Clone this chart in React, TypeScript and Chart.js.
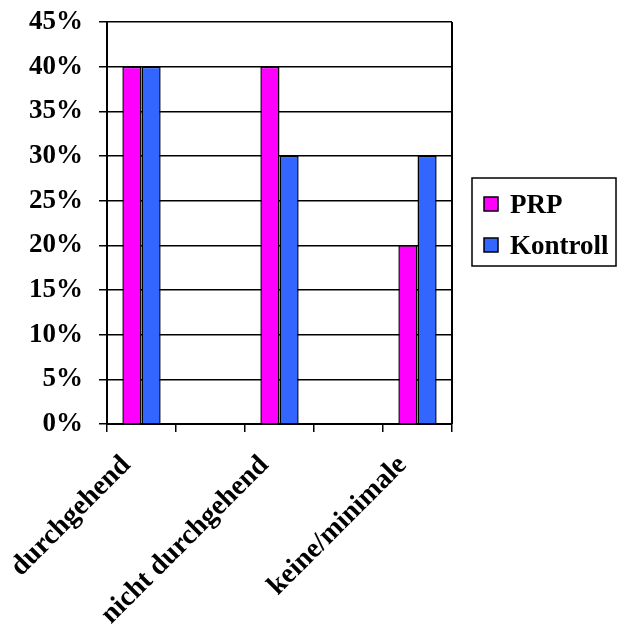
import React, { useEffect, useRef } from "react";
import { Chart, registerables } from "chart.js";

Chart.register(...registerables);

const categories = ["durchgehend", "", "nicht durchgehend", "", "keine/minimale"];
const prpValues = [40, null, 40, null, 20];
const kontrollValues = [40, null, 30, null, 30];
const seriesNames = ["PRP", "Kontroll"];
const seriesColors = ["#FF00FF", "#3366FF"];
const yMax = 45;
const yStep = 5;

const FONT = "'Liberation Serif', 'Times New Roman', serif";

const frameAndLegend = {
  id: "frameAndLegend",
  afterDraw(chart: any) {
    const { ctx, chartArea } = chart;
    ctx.save();
    ctx.strokeStyle = "#000";
    ctx.lineWidth = 2;
    ctx.beginPath();
    ctx.moveTo(chartArea.right, chartArea.top);
    ctx.lineTo(chartArea.right, chartArea.bottom);
    ctx.stroke();

    // legend box
    const lx = 472, ly = 178, lw = 144, lh = 88;
    ctx.lineWidth = 1.5;
    ctx.strokeRect(lx, ly, lw, lh);
    ctx.font = `bold 27px ${FONT}`;
    ctx.textBaseline = "alphabetic";
    ctx.textAlign = "left";
    const rows = [213, 254];
    chart.data.datasets.forEach((ds: any, i: number) => {
      const base = rows[i];
      ctx.fillStyle = ds.backgroundColor;
      ctx.fillRect(484, base - 16, 14, 14);
      ctx.lineWidth = 1.5;
      ctx.strokeStyle = "#000";
      ctx.strokeRect(484, base - 16, 14, 14);
      ctx.fillStyle = "#000";
      ctx.fillText(ds.label, 510, base);
    });
    ctx.restore();
  },
};

export default function App() {
  const ref = useRef<HTMLCanvasElement>(null);
  useEffect(() => {
    if (!ref.current) return;
    const chart = new Chart(ref.current, {
      type: "bar",
      data: {
        labels: categories,
        datasets: [
          {
            label: seriesNames[0],
            data: prpValues,
            backgroundColor: seriesColors[0],
            borderColor: "#000",
            borderWidth: 1.5,
            categoryPercentage: 0.555,
            barPercentage: 1.0,
          },
          {
            label: seriesNames[1],
            data: kontrollValues,
            backgroundColor: seriesColors[1],
            borderColor: "#000",
            borderWidth: 1.5,
            categoryPercentage: 0.555,
            barPercentage: 1.0,
          },
        ],
      },
      options: {
        responsive: false,
        animation: false,
        layout: { padding: { top: 22, right: 165, left: 0, bottom: 0 } },
        plugins: { legend: { display: false }, tooltip: { enabled: false } },
        scales: {
          x: {
            grid: {
              offset: true,
              drawOnChartArea: false,
              drawTicks: true,
              tickLength: 8,
              color: "#000",
              lineWidth: 1.5,
            },
            border: { color: "#000", width: 2 },
            ticks: {
              autoSkip: false,
              minRotation: 45,
              maxRotation: 45,
              padding: 17,
              labelOffset: -15,
              color: "#000",
              font: { family: FONT, size: 28, weight: "bold" },
            },
            afterFit(scale: any) {
              scale.height = 200;
              scale.paddingLeft = 0;
              scale.paddingRight = 0;
            },
          },
          y: {
            min: 0,
            max: yMax,
            ticks: {
              stepSize: yStep,
              padding: 16,
              color: "#000",
              font: { family: FONT, size: 27, weight: "bold" },
              callback: (v: any) => v + "%",
            },
            grid: { color: "#000", lineWidth: 1.5, tickLength: 8 },
            border: { color: "#000", width: 2 },
            afterFit(scale: any) {
              scale.width = 107;
              scale.paddingTop = 0;
              scale.paddingBottom = 0;
            },
          },
        },
      },
      plugins: [frameAndLegend],
    });
    return () => chart.destroy();
  }, []);
  return (
    <canvas
      ref={ref}
      width={617}
      height={624}
      style={{ position: "absolute", left: 0, top: 0, width: 617, height: 624 }}
    />
  );
}
